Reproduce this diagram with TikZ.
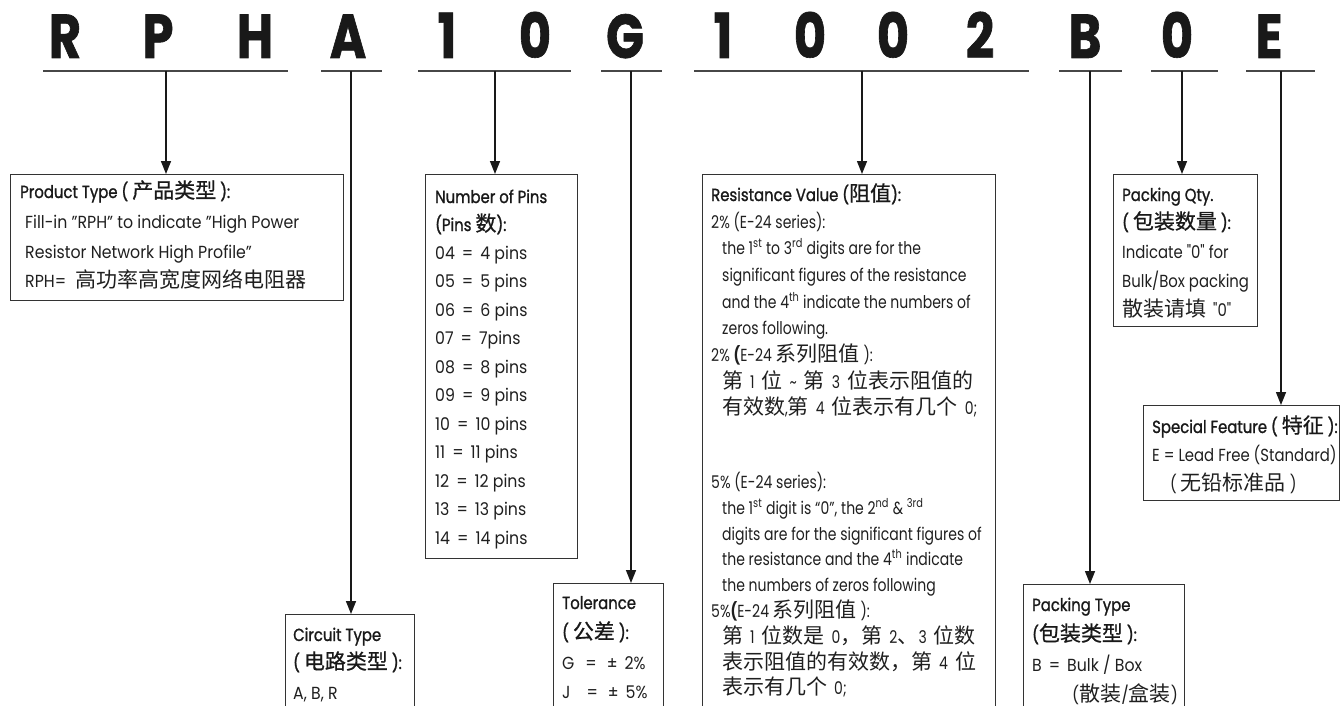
\documentclass[tikz,border=0pt]{standalone}
\usepackage{fontspec}
\usetikzlibrary{arrows.meta}
\setmainfont{Poppins}[FakeStretch=0.9]
\newfontfamily\ttlfont{Poppins}[FakeStretch=0.85, FakeBold=1.2]
\newfontfamily\qfont{Poppins}[FakeStretch=0.85]
\newfontfamily\narrowf{Poppins}[FakeStretch=0.8]
\newfontfamily\bigf{Poppins}[FakeStretch=0.8, FakeBold=1]
\newfontfamily\cjk{Noto Sans CJK SC}[Scale=1.2]
\newfontfamily\cjkt{Noto Sans CJK SC}[Scale=1.2, FakeBold=0.8]
\newcommand{\bodysize}{\fontsize{17.5}{21}\selectfont}
\newcommand{\gp}{\hspace{7pt}}
\begin{document}
\begin{tikzpicture}[x=1pt,y=-1pt,
  big/.style={anchor=base, inner sep=0pt, font=\bigf\bfseries\fontsize{62}{70}\selectfont, text=black!90},
  uline/.style={line width=2.4pt, draw=black!72},
  arr/.style={line width=1.5pt, draw=black!90, -{Triangle[length=13pt,width=10pt]}},
  box/.style={draw=black!80, line width=1.2pt, inner sep=0pt, anchor=north west},
  txt/.style={anchor=base west, inner sep=0pt, font=\bodysize, text=black!88},
  qtxt/.style={anchor=base west, inner sep=0pt, font=\qfont\bodysize, text=black!88},
  rtxt/.style={anchor=base west, inner sep=0pt, font=\narrowf\bodysize, text=black!88},
  ttl/.style={anchor=base west, inner sep=0pt, font=\ttlfont\bodysize, text=black!90}]
\useasboundingbox (0,0) rectangle (1341,706);
\clip (0,0) rectangle (1341,706);

% code letters
\node[big] (c1) at (65,58) {R};
\node[big] (c2) at (158,58) {P};
\node[big] (c3) at (255,58) {H};
\node[big] (c4) at (348,58) {A};
\node[big] (c5) at (447,58) {1};
\node[big] (c6) at (535,58) {0};
\node[big] (c7) at (625,58) {G};
\node[big] (c8) at (723,58) {1};
\node[big] (c9) at (810,58) {0};
\node[big] (c10) at (893,58) {0};
\node[big] (c11) at (980,58) {2};
\node[big] (c12) at (1085,58) {B};
\node[big] (c13) at (1177,58) {0};
\node[big] (c14) at (1269,58) {E};

% underlines
\coordinate (u1a) at (43,71);   \coordinate (u1b) at (288,71);  \coordinate (s1) at (166,71);
\coordinate (u2a) at (321,71);  \coordinate (u2b) at (382,71);  \coordinate (s2) at (351,71);
\coordinate (u3a) at (418,71);  \coordinate (u3b) at (571,71);  \coordinate (s3) at (495,71);
\coordinate (u4a) at (601,71);  \coordinate (u4b) at (662,71);  \coordinate (s4) at (631,71);
\coordinate (u5a) at (694,71);  \coordinate (u5b) at (1029,71); \coordinate (s5) at (862,71);
\coordinate (u6a) at (1059,71); \coordinate (u6b) at (1122,71); \coordinate (s6) at (1090,71);
\coordinate (u7a) at (1151,71); \coordinate (u7b) at (1218,71); \coordinate (s7) at (1182,71);
\coordinate (u8a) at (1246,71); \coordinate (u8b) at (1315,71); \coordinate (s8) at (1281,71);
\foreach \i in {1,...,8} {\draw[uline] (u\i a) -- (u\i b);}

% boxes
\node[box, minimum width=333pt, minimum height=126pt] (prod) at (10,174) {};
\node[box, minimum width=152pt, minimum height=384pt] (pins) at (425,174) {};
\node[box, minimum width=293pt, minimum height=546pt] (res) at (702,174) {};
\node[box, minimum width=144pt, minimum height=152pt] (qty) at (1113,174) {};
\node[box, minimum width=196pt, minimum height=95pt] (spec) at (1143,405) {};
\node[box, minimum width=129pt, minimum height=106pt] (circ) at (285,614) {};
\node[box, minimum width=110pt, minimum height=137pt] (tol) at (553,583) {};
\node[box, minimum width=161pt, minimum height=136pt] (ptype) at (1023,584) {};

% arrows
\draw[arr] (s1) -- (s1 |- prod.north);
\draw[arr] (s2) -- (s2 |- circ.north);
\draw[arr] (s3) -- (s3 |- pins.north);
\draw[arr] (s4) -- (s4 |- tol.north);
\draw[arr] (s5) -- (s5 |- res.north);
\draw[arr] (s6) -- (s6 |- ptype.north);
\draw[arr] (s7) -- (s7 |- qty.north);
\draw[arr] (s8) -- (s8 |- spec.north);

% Product type
\node[ttl] (p1) at (20,198) {Product Type ( {\cjkt 产品类型} ):};
\node[txt] (p2) at (25,228) {Fill-in "RPH" to indicate "High Power};
\node[txt] (p3) at (25,258) {Resistor Network High Profile"};
\node[txt] (p4) at (25,287) {RPH=\hspace{9pt}{\cjk 高功率高宽度网络电阻器}};

% Number of pins
\node[ttl] (n1) at (435,203) {Number of Pins};
\node[ttl] (n2) at (435,231) {(Pins {\cjkt 数}):};
\node[txt] (n3) at (435,259) {04\gp=\gp4 pins};
\node[txt] (n4) at (435,287.5) {05\gp=\gp5 pins};
\node[txt] (n5) at (435,316) {06\gp=\gp6 pins};
\node[txt] (n6) at (435,344.5) {07\gp=\gp7pins};
\node[txt] (n7) at (435,373) {08\gp=\gp8 pins};
\node[txt] (n8) at (435,401.5) {09\gp=\gp9 pins};
\node[txt] (n9) at (435,430) {10\gp=\gp10 pins};
\node[txt] (n10) at (435,458.5) {11\gp=\gp11 pins};
\node[txt] (n11) at (435,487) {12\gp=\gp12 pins};
\node[txt] (n12) at (435,515.5) {13\gp=\gp13 pins};
\node[txt] (n13) at (435,544) {14\gp=\gp14 pins};

% Resistance value
\node[ttl] (r1) at (711,201) {Resistance Value ({\cjkt 阻值}):};
\node[rtxt] (r2) at (711,228) {2\% (E-24 series):};
\node[rtxt] (r3) at (722,254) {the 1\textsuperscript{st} to 3\textsuperscript{rd} digits are for the};
\node[rtxt] (r4) at (722,281) {significant figures of the resistance};
\node[rtxt] (r5) at (722,308) {and the 4\textsuperscript{th} indicate the numbers of};
\node[rtxt] (r6) at (722,334) {zeros following.};
\node[rtxt] (r7) at (711,361) {2\% {\bfseries(}E-24 {\cjk 系列阻值} ):};
\node[rtxt] (r8) at (722,388) {{\cjk 第}\gp1\gp{\cjk 位}\gp\textasciitilde\gp{\cjk 第}\gp3\gp{\cjk 位表示阻值的}};
\node[rtxt] (r9) at (722,414) {{\cjk 有效数},{\cjk 第}\gp4\gp{\cjk 位表示有几个}\gp0;};
\node[rtxt] (r10) at (711,488) {5\% (E-24 series):};
\node[rtxt] (r11) at (722,514) {the 1\textsuperscript{st} digit is “0”, the 2\textsuperscript{nd} \& \textsuperscript{3rd}};
\node[rtxt] (r12) at (722,540) {digits are for the significant figures of};
\node[rtxt] (r13) at (722,565) {the resistance and the 4\textsuperscript{th} indicate};
\node[rtxt] (r14) at (722,591) {the numbers of zeros following};
\node[rtxt] (r15) at (711,617) {5\%{\bfseries(}E-24 {\cjk 系列阻值} ):};
\node[rtxt] (r16) at (722,643) {{\cjk 第}\gp1\gp{\cjk 位数是}\gp0{\cjk ，第}\gp2{\cjk 、}3\gp{\cjk 位数}};
\node[rtxt] (r17) at (722,669) {{\cjk 表示阻值的有效数，第}\gp4\gp{\cjk 位}};
\node[rtxt] (r18) at (722,694) {{\cjk 表示有几个}\gp0;};

% Packing qty
\node[ttl] (q1) at (1122,201) {Packing Qty.};
\node[ttl] (q2) at (1122,229) {( {\cjkt 包装数量} ):};
\node[qtxt] (q3) at (1122,258) {Indicate "0" for};
\node[qtxt] (q4) at (1122,287) {Bulk/Box packing};
\node[qtxt] (q5) at (1122,316) {{\cjk 散装请填}\gp"0"};

% Special feature
\node[ttl] (f1) at (1152,433) {Special Feature ( {\cjkt 特征} ):};
\node[qtxt] (f2) at (1152,461) {E = Lead Free (Standard)};
\node[qtxt] (f3) at (1170,490) {( {\cjk 无铅标准品} )};

% Circuit type
\node[ttl] (t1) at (293,641) {Circuit Type};
\node[ttl] (t2) at (293,669) {( {\cjkt 电路类型} ):};
\node[txt] (t3) at (293,699) {A, B, R};

% Tolerance
\node[ttl] (o1) at (562,609) {Tolerance};
\node[ttl] (o2) at (562,639) {( {\cjkt 公差} ):};
\node[txt] (o3) at (562,669) {G\hspace{11pt}=\hspace{10pt}±\hspace{7pt}2\%};
\node[txt] (o4) at (562,698) {J\hspace{16pt}=\hspace{10pt}±\hspace{7pt}5\%};

% Packing type
\node[ttl] (k1) at (1032,611) {Packing Type};
\node[ttl] (k2) at (1032,641) {({\cjkt 包装类型} ):};
\node[txt] (k3) at (1032,671) {B\gp=\gp Bulk / Box};
\node[txt] (k4) at (1072,701) {({\cjk 散装}/{\cjk 盒装})};
\end{tikzpicture}
\end{document}
